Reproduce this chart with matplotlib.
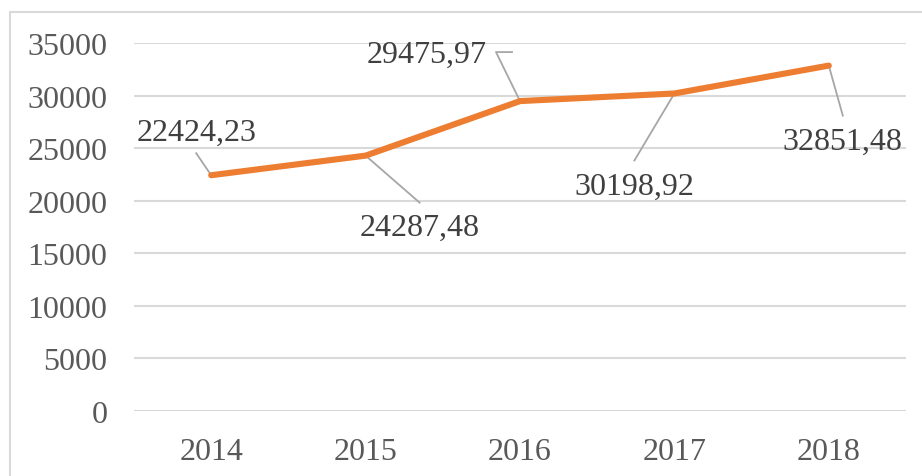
import numpy as np
import matplotlib.pyplot as plt
from matplotlib.patches import Rectangle

# Data
years = ['2014', '2015', '2016', '2017', '2018']
values = [22424.23, 24287.48, 29475.97, 30198.92, 32851.48]
labels = ['22424,23', '24287,48', '29475,97', '30198,92', '32851,48']

# label placement (pixel offsets from point): text centre, leader path
text_off = [(-15, 43), (54, -72), (-93, 47), (-40, -93), (14, -76)]
lead_off = [[(-15, 22)], [(54, -47)], [(-24, 49), (-8, 49)], [(-40, -67)], [(14, -50)]]

plt.rcParams['font.family'] = ['Liberation Serif', 'DejaVu Serif']

fig = plt.figure(figsize=(9.22, 4.77), dpi=100)
ax = fig.add_axes([134/922, 1-412/477, 772/922, 368/477])

x = np.arange(len(years))
ax.plot(x, values, color='#ED7D31', lw=4.4, solid_capstyle='round', solid_joinstyle='round', zorder=3)

ax.set_xlim(-0.5, 4.5)
ax.set_ylim(0, 35000)
ax.set_yticks(np.arange(0, 35001, 5000))
ax.set_xticks(x)
ax.set_xticklabels(years)
ax.yaxis.grid(True, color='#D9D9D9', lw=1.5)
ax.set_axisbelow(True)
for s in ax.spines.values():
    s.set_visible(False)
ax.tick_params(length=0, labelsize=23, labelcolor='#595959')
ax.tick_params(axis='y', pad=19)
ax.tick_params(axis='x', pad=19)

# data labels with leader lines (in pixels)
fig.canvas.draw()
inv = ax.transData.inverted()
for i in range(len(years)):
    px, py = ax.transData.transform((x[i], values[i]))
    tx, ty = text_off[i]
    ax.annotate(labels[i], (x[i], values[i]), xytext=(tx, ty), textcoords='offset pixels',
                ha='center', va='center', fontsize=23, color='#404040', zorder=4,
                annotation_clip=False)
    pts = [(px, py)] + [(px + dx, py + dy) for dx, dy in lead_off[i]]
    pts = inv.transform(pts)
    ax.plot(pts[:, 0], pts[:, 1], color='#A6A6A6', lw=1.3, clip_on=False, zorder=2)

# chart border (cut off at right and bottom)
fig.patches.append(Rectangle((10/922, -0.1), 1.1, 1-13/477+0.1, transform=fig.transFigure,
                             fill=False, edgecolor='#D9D9D9', lw=1.5))

fig.savefig('out.png', dpi=100)
